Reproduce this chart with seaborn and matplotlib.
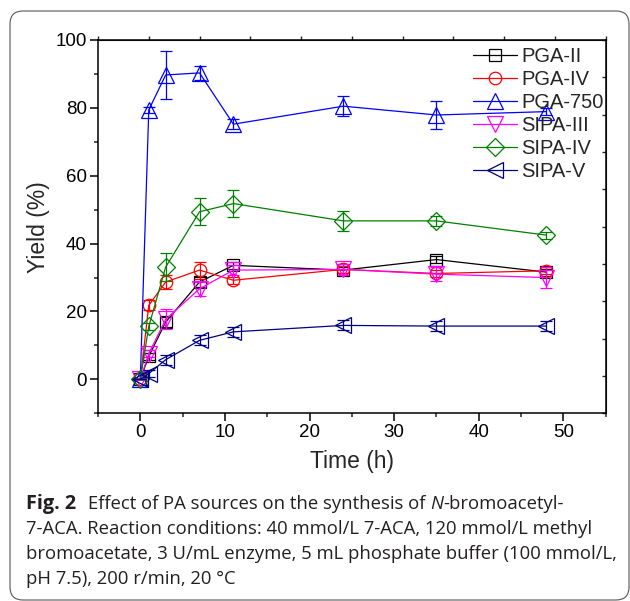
import matplotlib
matplotlib.use("Agg")
import matplotlib.pyplot as plt
import seaborn as sns
import pandas as pd
from matplotlib.patches import FancyBboxPatch
from matplotlib.transforms import IdentityTransform
from matplotlib.ticker import MultipleLocator

sns.set_style("ticks")
plt.rcParams["font.family"] = ["Liberation Sans", "DejaVu Sans"]

# data
time_h = [0, 1, 3, 7, 11, 24, 35, 48]
series_names = ["PGA-II", "PGA-IV", "PGA-750", "SIPA-III", "SIPA-IV", "SIPA-V"]
pga_ii = [0, 6.8, 16.9, 28.7, 33.6, 32.2, 35.3, 31.6]
pga_iv = [0, 21.8, 28.7, 32.2, 29.2, 32.4, 31.2, 32.0]
pga_750 = [0, 79.4, 89.7, 90.3, 75.2, 80.5, 77.9, 78.9]
sipa_iii = [0, 7.6, 17.7, 26.7, 32.2, 32.4, 31.0, 30.0]
sipa_iv = [0, 15.6, 33.1, 49.4, 51.8, 46.7, 46.7, 42.5]
sipa_v = [0, 1.7, 5.8, 11.5, 14.0, 15.9, 15.7, 15.7]

err_pga_ii = [0, 1.0, 1.5, 1.5, 1.0, 1.0, 1.0, 1.0]
err_pga_iv = [0, 1.5, 2.0, 2.5, 1.0, 1.0, 1.0, 1.0]
err_pga_750 = [0, 1.0, 7.0, 2.0, 1.5, 3.0, 4.0, 1.0]
err_sipa_iii = [0, 1.0, 3.0, 2.0, 1.5, 1.5, 2.0, 3.0]
err_sipa_iv = [0, 1.0, 4.0, 4.0, 4.0, 3.0, 1.5, 1.0]
err_sipa_v = [0, 1.0, 1.5, 1.5, 1.5, 1.5, 1.5, 1.5]

values = [pga_ii, pga_iv, pga_750, sipa_iii, sipa_iv, sipa_v]
errors = [err_pga_ii, err_pga_iv, err_pga_750, err_sipa_iii, err_sipa_iv, err_sipa_v]
colors = ["#000000", "#FF0000", "#0000FF", "#FF00FF", "#008000", "#000080"]
markers = ["s", "o", "^", "v", "D", "<"]
msizes = [8, 9, 11, 11, 9, 11]

W, H = 630, 601
fig = plt.figure(figsize=(W / 100, H / 100), dpi=100)
ax = fig.add_axes([98 / W, 1 - 413.3 / H, 507.7 / W, 373.3 / H])

for name, vals, err, c, m, ms in zip(series_names, values, errors, colors, markers, msizes):
    df = pd.DataFrame({"Time": time_h, "Yield": vals})
    sns.lineplot(data=df, x="Time", y="Yield", ax=ax, color=c, marker=m,
                 markersize=ms, markerfacecolor="none", markeredgecolor=c,
                 markeredgewidth=0.9, linewidth=0.9, label=name)
    ax.errorbar(time_h, vals, yerr=err, fmt="none", ecolor=c, elinewidth=0.9,
                capsize=4, capthick=0.9)

ax.set_xlim(-5, 55)
ax.set_ylim(-10, 100)
ax.xaxis.set_major_locator(MultipleLocator(10))
ax.xaxis.set_minor_locator(MultipleLocator(5))
ax.yaxis.set_major_locator(MultipleLocator(20))
ax.yaxis.set_minor_locator(MultipleLocator(10))
ax.set_xticks([0, 10, 20, 30, 40, 50])
ax.set_yticks([0, 20, 40, 60, 80, 100])
ax.tick_params(axis="both", which="major", direction="out", length=6, width=1.1,
               labelsize=13.5, pad=2, colors="black")
ax.tick_params(axis="both", which="minor", direction="out", length=3, width=1.1)
for s in ax.spines.values():
    s.set_visible(True)
    s.set_linewidth(1.1)
    s.set_color("black")

ax.set_xlabel("Time (h)", fontsize=16.5, labelpad=6)
ax.set_ylabel("Yield (%)", fontsize=16.5, labelpad=4)

# Origin-style independent top/right axes with 10 divisions
top = ax.secondary_xaxis("top", functions=(lambda x: (x + 5) / 6.0, lambda u: u * 6.0 - 5))
top.set_xticks(range(11))
top.tick_params(direction="out", length=3, width=1.0, labeltop=False)
right = ax.secondary_yaxis("right", functions=(lambda y: (y + 10) / 11.0, lambda u: u * 11.0 - 10))
right.set_yticks(range(11))
right.tick_params(direction="in", length=3, width=1.0, labelright=False)

ax.legend(loc="upper left", bbox_to_anchor=((473 - 98) / 507.7, 0.98),
          frameon=False, fontsize=14.5, handlelength=2.2, handletextpad=0.2,
          labelspacing=0.19, borderpad=0, borderaxespad=0, numpoints=1)

# rounded frame around figure
box = FancyBboxPatch((10, 1), 619, 589, boxstyle="round,pad=0,rounding_size=13",
                     transform=IdentityTransform(), fill=False, edgecolor="#555555",
                     linewidth=0.8, clip_on=False)
fig.patches.append(box)

# caption
cap_font = ["Open Sans", "DejaVu Sans"]
cap_size = 13.3
renderer = fig.canvas.get_renderer()


def put(x, y, s, size=cap_size, **kw):
    t = fig.text(x / W, 1 - y / H, s, fontsize=size, family=cap_font,
                 va="baseline", ha="left", color="#231f20", **kw)
    return t.get_window_extent(renderer).x1


put(26, 509, "Fig. 2", size=14.3, weight="bold")
x = put(88, 509, "Effect of PA sources on the synthesis of ")
x = put(x, 509, "N", style="italic")
put(x, 509, "-bromoacetyl-")
put(26, 534, "7-ACA. Reaction conditions: 40 mmol/L 7-ACA, 120 mmol/L methyl")
put(26, 559, "bromoacetate, 3 U/mL enzyme, 5 mL phosphate buffer (100 mmol/L,")
put(26, 584, "pH 7.5), 200 r/min, 20 \u00b0C")

fig.savefig("out.png", dpi=100)
